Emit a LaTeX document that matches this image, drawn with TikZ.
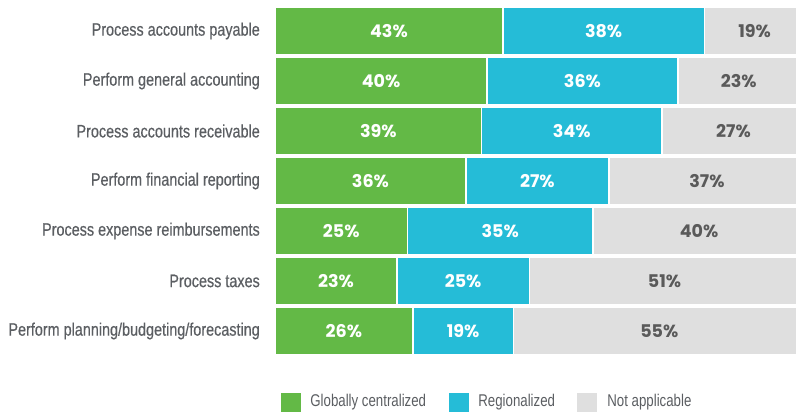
\documentclass[tikz,border=0pt]{standalone}
\usepackage{fontspec}
\usetikzlibrary{positioning}
\newfontfamily\condfont[FakeStretch=0.80,FakeBold=0.5]{Liberation Sans}
\newfontfamily\keyfont[FakeStretch=0.78]{Liberation Sans}
\newfontfamily\numfont{Poppins}
\definecolor{gccol}{HTML}{63B946}
\definecolor{rgcol}{HTML}{25BCD7}
\definecolor{nacol}{HTML}{DFDFDF}
\definecolor{txtcol}{HTML}{5B5E62}
\definecolor{natxt}{HTML}{5A5A5A}

\tikzset{
  bar/.style={rectangle, draw=white, line width=1.5pt, inner sep=0pt, outer sep=0pt,
    minimum height=48pt, font=\numfont\bfseries\fontsize{17.5}{17.5}\selectfont},
  gc/.style={bar, fill=gccol, text=white, minimum width=5.3pt*#1},
  rg/.style={bar, fill=rgcol, text=white, minimum width=5.3pt*#1},
  na/.style={bar, fill=nacol, text=natxt, minimum width=5.3pt*#1},
  lbl/.style={text=txtcol, inner sep=0pt, font=\condfont\fontsize{18}{18}\selectfont},
  keytxt/.style={text=txtcol, inner sep=0pt, font=\keyfont\fontsize{17}{17}\selectfont},
  key/.style={rectangle, inner sep=0pt, minimum width=20pt, minimum height=19pt},
}

\begin{document}
\begin{tikzpicture}[x=1pt,y=-1pt]
  \useasboundingbox (0,0) rectangle (796,417);
  \clip (0,0) rectangle (796,417);

  % bars
  \node[gc=43, anchor=west] (pay-g) at (275,31) {43\%};
  \node[rg=38, right=0pt of pay-g] (pay-r) {38\%};
  \node[na=19, right=0pt of pay-r] (pay-n) {19\%};

  \node[gc=40, anchor=west] (gen-g) at (275,81) {40\%};
  \node[rg=36, right=0pt of gen-g] (gen-r) {36\%};
  \node[na=23, right=0pt of gen-r] (gen-n) {23\%};

  \node[gc=39, anchor=west] (rec-g) at (275,131) {39\%};
  \node[rg=34, right=0pt of rec-g] (rec-r) {34\%};
  \node[na=27, right=0pt of rec-r] (rec-n) {27\%};

  \node[gc=36, anchor=west] (fin-g) at (275,181) {36\%};
  \node[rg=27, right=0pt of fin-g] (fin-r) {27\%};
  \node[na=37, right=0pt of fin-r] (fin-n) {37\%};

  \node[gc=25, anchor=west] (exp-g) at (275,231) {25\%};
  \node[rg=35, right=0pt of exp-g] (exp-r) {35\%};
  \node[na=40, right=0pt of exp-r] (exp-n) {40\%};

  \node[gc=23, anchor=west] (tax-g) at (275,281) {23\%};
  \node[rg=25, right=0pt of tax-g] (tax-r) {25\%};
  \node[na=51, right=0pt of tax-r] (tax-n) {51\%};

  \node[gc=26, anchor=west] (plan-g) at (275,331) {26\%};
  \node[rg=19, right=0pt of plan-g] (plan-r) {19\%};
  \node[na=55, right=0pt of plan-r] (plan-n) {55\%};

  % row labels
  \node[lbl, left=15pt of pay-g] (pay-l) {Process accounts payable};
  \node[lbl, left=15pt of gen-g] (gen-l) {Perform general accounting};
  \node[lbl, left=15pt of rec-g] (rec-l) {Process accounts receivable};
  \node[lbl, left=15pt of fin-g] (fin-l) {Perform financial reporting};
  \node[lbl, left=15pt of exp-g] (exp-l) {Process expense reimbursements};
  \node[lbl, left=15pt of tax-g] (tax-l) {Process taxes};
  \node[lbl, left=15pt of plan-g] (plan-l) {Perform planning/budgeting/forecasting};

  % legend
  \node[key, fill=gccol] (key-g) at (291,402.5) {};
  \node[keytxt, right=9pt of key-g] (key-gl) {Globally centralized};
  \node[key, fill=rgcol] (key-r) at (459,402.5) {};
  \node[keytxt, right=9pt of key-r] (key-rl) {Regionalized};
  \node[key, fill=nacol] (key-n) at (587,402.5) {};
  \node[keytxt, right=10pt of key-n] (key-nl) {Not applicable};
\end{tikzpicture}
\end{document}
